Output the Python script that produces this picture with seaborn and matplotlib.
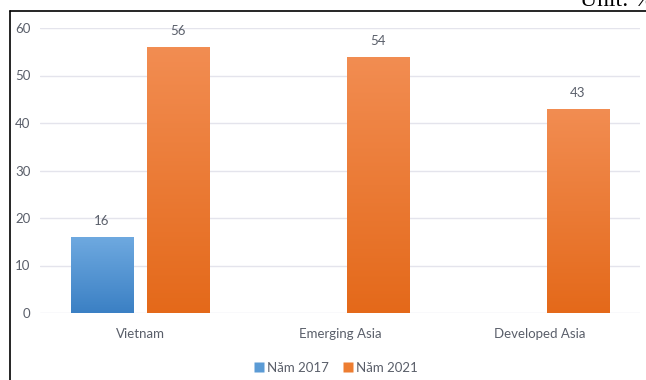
import numpy as np
import pandas as pd
import matplotlib
matplotlib.use("Agg")
import matplotlib.pyplot as plt
import seaborn as sns
from matplotlib.colors import LinearSegmentedColormap
from matplotlib.lines import Line2D

categories = ["Vietnam", "Emerging Asia", "Developed Asia"]
series = ["Năm 2017", "Năm 2021"]
values_2017 = [16, np.nan, np.nan]
values_2021 = [56, 54, 43]
yticks = [0, 10, 20, 30, 40, 50, 60]

df = pd.DataFrame({
    "cat": categories * 2,
    "series": [series[0]] * 3 + [series[1]] * 3,
    "val": values_2017 + values_2021,
})

sns.set_theme(style="white")
plt.rcParams["font.family"] = ["Lato", "DejaVu Sans"]

fig = plt.figure(figsize=(6.46, 3.80), dpi=100)
ax = fig.add_axes([40 / 646, 67 / 380, 600 / 646, 285 / 380])

tops = {"Năm 2017": "#6ea9e0", "Năm 2021": "#f28d52"}
bottoms = {"Năm 2017": "#3b80c4", "Năm 2021": "#e4691a"}
pal = {"Năm 2017": "#5b9bd5", "Năm 2021": "#ed7d31"}

sns.barplot(data=df, x="cat", y="val", hue="series", order=categories,
            hue_order=series, palette=pal, width=0.76, gap=0.184,
            ax=ax, legend=False, saturation=1)

ax.set_xlim(-0.5, 2.5)
ax.set_ylim(0, 60)
ax.set_yticks(yticks)
ax.set_yticklabels([str(t) for t in yticks])
ax.grid(axis="y", color="#e4e4ec", linewidth=1)
ax.set_axisbelow(True)
for s in ax.spines.values():
    s.set_visible(False)
ax.set_xlabel("")
ax.set_ylabel("")
ax.tick_params(axis="both", length=0, labelsize=9.5, colors="#5a5f6a")
ax.tick_params(axis="y", pad=7)
ax.tick_params(axis="x", pad=11)

# gradients and labels
for cont, s in zip(ax.containers, series):
    cmap = LinearSegmentedColormap.from_list(s, [bottoms[s], tops[s]])
    for bar in cont:
        h = bar.get_height()
        if not np.isfinite(h) or h == 0:
            continue
        x0, w = bar.get_x(), bar.get_width()
        grad = np.linspace(0, 1, 256).reshape(-1, 1)
        im = ax.imshow(grad, cmap=cmap, origin="lower", aspect="auto",
                       extent=[x0, x0 + w, 0, h], zorder=bar.get_zorder())
        im.set_clip_path(bar)
        bar.set_edgecolor("none")
        ax.text(x0 + w / 2, h + 2.1, f"{h:.0f}", ha="center", va="bottom",
                fontsize=9.5, color="#5a5f6a")
ax.set_xlim(-0.5, 2.5)
ax.set_ylim(0, 60)

handles = [Line2D([0], [0], marker="s", linestyle="none", markersize=6.5,
                  markerfacecolor=pal[s], markeredgecolor="none") for s in series]
fig.legend(handles, series, loc="center", bbox_to_anchor=(335 / 646, 1 - 368 / 380),
           ncol=2, frameon=False, fontsize=9.5, handletextpad=0.1,
           columnspacing=1.0, labelcolor="#5a5f6a", handlelength=1)

# outer border
fig.add_artist(Line2D([10 / 646, 1], [1 - 11 / 380, 1 - 11 / 380], color="black",
                      linewidth=1.2, transform=fig.transFigure))
fig.add_artist(Line2D([10 / 646, 10 / 646], [0, 1 - 11 / 380], color="black",
                      linewidth=1.2, transform=fig.transFigure))
fig.text(580 / 646, 1 - 6 / 380, "Unit: %", family=["Liberation Serif", "DejaVu Serif"],
         fontsize=17, color="black", ha="left", va="baseline")

fig.savefig("out.png", dpi=100)
